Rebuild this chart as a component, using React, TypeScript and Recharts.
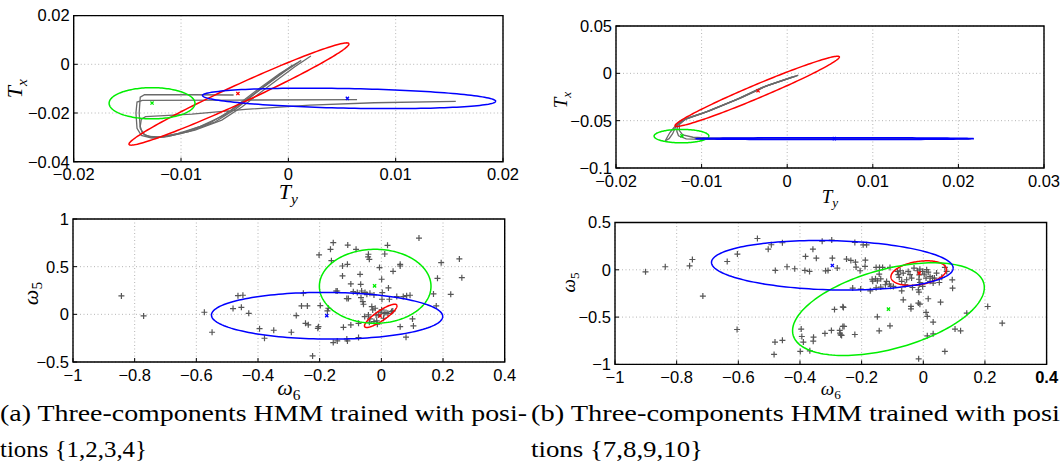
import React from 'react';
import { ScatterChart, Scatter, XAxis, YAxis, CartesianGrid, ReferenceArea } from 'recharts';

type Pt = [number, number];
type Ell = { cx: number; cy: number; rx: number; ry: number; rho: number };

// colours of the three HMM components: red, green, blue
const COMPONENT_COLORS = ['#ff0000', '#00ee00', '#0000ff'];

// ---------- (a) top: T_y / T_x ----------
const aTopXTicks = [-0.02, -0.01, 0, 0.01, 0.02];
const aTopYTicks = [-0.04, -0.02, 0, 0.02];
const aTopEllipses: Ell[] = [
  { cx: -0.0046, cy: -0.0122, rx: 0.01025, ry: 0.021, rho: 0.98 },
  { cx: -0.0127, cy: -0.016, rx: 0.004, ry: 0.0064, rho: 0 },
  { cx: 0.00566, cy: -0.014, rx: 0.01366, ry: 0.0042, rho: -0.28 },
];
const aTopCenters: Pt[] = [[-0.0047, -0.012], [-0.0127, -0.0159], [0.0055, -0.014]];
const aTopPaths: Pt[][] = [
  [[0.0021, 0.0034], [0.0006, -0.001], [-0.0019, -0.0092], [-0.0043, -0.0174], [-0.0062, -0.0229], [-0.0087, -0.027], [-0.0109, -0.0293], [-0.0124, -0.0302], [-0.0134, -0.029], [-0.0138, -0.0263], [-0.0139, -0.02], [-0.0138, -0.0135], [-0.0134, -0.0125], [-0.009, -0.0125], [-0.0051, -0.0126]],
  [[0.0012, 0.0016], [-0.0003, -0.0028], [-0.0026, -0.0103], [-0.0049, -0.0183], [-0.0068, -0.0236], [-0.0093, -0.0276], [-0.0113, -0.0297], [-0.0127, -0.0303], [-0.0137, -0.0292], [-0.0141, -0.0263], [-0.0142, -0.02], [-0.0141, -0.0155], [-0.0136, -0.0148], [-0.005, -0.0147], [0.0064, -0.0145]],
  [[0.0008, 0.0005], [-0.0008, -0.0038], [-0.0031, -0.0112], [-0.0054, -0.019], [-0.0073, -0.0241], [-0.0097, -0.0279], [-0.0116, -0.0298], [-0.0129, -0.0299], [-0.0136, -0.0283], [-0.0138, -0.0255], [-0.0137, -0.0225], [-0.0133, -0.0215], [-0.009, -0.0205], [-0.004, -0.0185], [0.002, -0.0168], [0.008, -0.0158], [0.0156, -0.0152]],
  [[0.0004, -0.0003], [-0.0015, -0.0065], [-0.0039, -0.0145], [-0.006, -0.021], [-0.0082, -0.0255], [-0.0103, -0.0285], [-0.012, -0.0298], [-0.0131, -0.0296]],
];

// ---------- (b) top: T_y / T_x ----------
const bTopXTicks = [-0.02, -0.01, 0, 0.01, 0.02, 0.03];
const bTopYTicks = [-0.1, -0.05, 0, 0.05];
const bTopEllipses: Ell[] = [
  { cx: -0.0035, cy: -0.019, rx: 0.0096, ry: 0.0371, rho: 0.978 },
  { cx: -0.01235, cy: -0.0663, rx: 0.0032, ry: 0.0071, rho: 0 },
  { cx: 0.0056, cy: -0.069, rx: 0.0162, ry: 0.001, rho: 0 },
];
const bTopCenters: Pt[] = [[-0.0034, -0.0184], [-0.0123, -0.0661], [0.0055, -0.069]];
const bTopPaths: Pt[][] = [
  [[0.0012, -0.0025], [-0.0025, -0.0135], [-0.0055, -0.0262], [-0.0093, -0.0402], [-0.0117, -0.0475], [-0.0128, -0.053], [-0.0131, -0.058], [-0.0134, -0.064], [-0.0138, -0.069], [-0.0143, -0.0715]],
  [[0.0009, -0.0032], [-0.0028, -0.0145], [-0.0058, -0.0272], [-0.0096, -0.0412], [-0.0119, -0.0484], [-0.0126, -0.054], [-0.0126, -0.0605], [-0.0122, -0.065], [-0.011, -0.0675], [-0.009, -0.0684], [0.008, -0.0688], [0.0214, -0.069]],
  [[0.0006, -0.0038], [-0.003, -0.0152], [-0.006, -0.0279], [-0.0098, -0.042], [-0.012, -0.049], [-0.0128, -0.0548], [-0.0129, -0.061], [-0.0127, -0.066], [-0.0118, -0.0693], [-0.01, -0.0697], [0.01, -0.0694], [0.0215, -0.0692]],
  [[0.0013, -0.002], [-0.0022, -0.0125], [-0.0052, -0.0252], [-0.009, -0.0394], [-0.0115, -0.0468], [-0.0126, -0.0522], [-0.0132, -0.057], [-0.0137, -0.0625], [-0.014, -0.0672], [-0.0142, -0.0705]],
];

// ---------- (a) bottom: w6 / w5 ----------
const omegaXTicks = [-1, -0.8, -0.6, -0.4, -0.2, 0, 0.2, 0.4];
const aBotYTicks = [-0.5, 0, 0.5, 1];
const aBotEllipses: Ell[] = [
  { cx: -0.002, cy: -0.016, rx: 0.0527, ry: 0.122, rho: 0.86 },
  { cx: -0.02, cy: 0.294, rx: 0.181, ry: 0.388, rho: 0 },
  { cx: -0.176, cy: -0.015, rx: 0.375, ry: 0.245, rho: -0.03 },
];
const aBotCenters: Pt[] = [[-0.004, -0.017], [-0.022, 0.298], [-0.177, -0.013]];
const aBotPoints: Pt[] = [
  [-0.843, 0.193], [-0.771, -0.017], [-0.574, 0.022], [-0.549, -0.188], [-0.465, 0.196], [-0.449, 0.2], [-0.481, 0.06], [-0.454, 0.074],
  [-0.43, 0.011], [-0.395, -0.15], [-0.379, -0.251], [-0.349, -0.167], [-0.292, -0.188], [-0.276, -0.013], [-0.259, 0.088], [-0.24, 0.088],
  [-0.253, 0.221], [-0.246, -0.094], [-0.204, -0.129], [-0.223, -0.436], [-0.202, 0.623], [-0.198, 0.092], [-0.172, 0.064], [-0.175, 0.036],
  [-0.165, 0.682], [-0.156, 0.752], [-0.162, 0.563], [-0.109, 0.727], [-0.082, 0.682], [-0.126, 0.507], [-0.11, 0.525], [-0.126, 0.403],
  [-0.099, 0.319], [-0.069, 0.42], [-0.067, 0.315], [-0.042, 0.63], [-0.039, 0.577], [-0.043, 0.602], [0.02, 0.724], [0.011, 0.633],
  [0.122, 0.8], [-0.006, 0.49], [0.061, 0.525], [0.061, 0.507], [0.038, 0.451], [0.001, 0.368], [0.023, 0.277], [-0.147, 0.245],
  [-0.143, 0.245], [-0.112, 0.165], [-0.107, 0.165], [-0.091, 0.238], [-0.078, 0.228], [-0.064, 0.245], [-0.053, 0.228], [-0.047, 0.21],
  [-0.037, 0.221], [-0.066, 0.175], [-0.06, 0.133], [-0.058, 0.106], [-0.024, 0.203], [0.002, 0.158], [0.026, 0.158], [0.003, 0.228],
  [0.05, 0.186], [0.071, 0.186], [0.082, 0.196], [0.093, 0.2], [0.169, 0.214], [0.225, 0.21], [0.194, 0.542], [0.253, 0.581],
  [0.261, 0.385], [0.182, 0.378], [0.178, 0.088], [-0.031, 0.081], [-0.02, 0.064], [-0.01, -0.006], [-0.004, 0.022], [0.009, 0.008],
  [0.015, 0.018], [-0.054, -0.024], [-0.042, -0.006], [-0.037, -0.048], [-0.028, 0.046], [-0.015, -0.069], [-0.039, -0.083], [-0.024, -0.076],
  [-0.013, -0.104], [0.007, -0.041], [0.033, 0.029], [0.021, 0.011], [0.001, 0.046], [-0.017, -0.006], [-0.074, -0.094], [-0.099, -0.111],
  [-0.123, -0.136], [-0.112, -0.258], [-0.11, -0.279], [-0.143, -0.279], [-0.156, -0.296], [-0.074, -0.244], [0.061, -0.129], [0.101, -0.048],
  [0.104, -0.122], [0.08, -0.24], [0.037, 0.036], [-0.206, -0.147], [-0.237, -0.11],
];

// ---------- (b) bottom: w6 / w5 ----------
const bBotYTicks = [-1, -0.5, 0, 0.5];
const bBotEllipses: Ell[] = [
  { cx: -0.015, cy: -0.035, rx: 0.09, ry: 0.13, rho: 0.3 },
  { cx: -0.113, cy: -0.416, rx: 0.311, ry: 0.49, rho: 0.466 },
  { cx: -0.295, cy: 0.048, rx: 0.392, ry: 0.262, rho: -0.115 },
];
const bBotCenters: Pt[] = [[-0.013, -0.035], [-0.113, -0.416], [-0.295, 0.046]];
const bBotPoints: Pt[] = [
  [-0.901, -0.021], [-0.837, 0.032], [-0.758, 0.042], [-0.749, 0.109], [-0.715, -0.278], [-0.636, 0.088], [-0.603, 0.166], [-0.604, -0.631],
  [-0.538, 0.331], [-0.503, 0.218], [-0.493, 0.265], [-0.457, 0.286], [-0.48, -0.007], [-0.442, 0.032], [-0.417, 0.011], [-0.384, -0.007],
  [-0.369, -0.017], [-0.382, 0.141], [-0.358, 0.218], [-0.347, 0.123], [-0.328, 0.303], [-0.297, 0.314], [-0.295, 0.123], [-0.317, -0.011],
  [-0.309, -0.007], [-0.279, 0.018], [-0.481, -0.764], [-0.457, -0.746], [-0.484, -0.895], [-0.396, -0.627], [-0.394, -0.705], [-0.389, -0.764],
  [-0.399, -0.863], [-0.368, -0.856], [-0.356, -0.712], [-0.357, -0.754], [-0.319, -0.673], [-0.298, -0.641], [-0.288, -0.419], [-0.261, -0.391],
  [-0.271, -0.641], [-0.268, -0.687], [-0.261, -0.599], [-0.222, 0.289], [-0.195, 0.264], [-0.184, 0.264], [-0.249, 0.113], [-0.235, 0.099],
  [-0.22, 0.081], [-0.188, 0.102], [-0.218, 0.029], [-0.205, -0.01], [-0.189, 0.036], [-0.153, 0.025], [-0.142, 0.025], [-0.132, 0.025],
  [-0.108, 0.025], [-0.143, -0.045], [-0.166, -0.1], [-0.155, -0.095], [-0.164, -0.12], [-0.149, -0.117], [-0.138, -0.095], [-0.119, -0.123],
  [-0.11, -0.15], [-0.106, -0.175], [-0.153, -0.19], [-0.138, -0.183], [-0.123, -0.158], [-0.097, -0.176], [-0.229, -0.193], [-0.203, -0.204],
  [-0.172, -0.222], [-0.084, -0.017], [-0.081, -0.052], [-0.075, -0.01], [-0.065, -0.035], [-0.049, -0.017], [-0.043, -0.052], [-0.078, -0.08],
  [-0.07, -0.122], [-0.054, -0.105], [-0.059, -0.158], [-0.038, -0.087], [-0.03, 0.018], [-0.019, -0.01], [-0.011, 0.007], [-0.013, -0.053],
  [-0.002, -0.017], [0.003, -0.045], [0.011, 0.001], [0.016, -0.024], [0.009, -0.087], [0.022, -0.07], [0.03, -0.087], [0.022, -0.122],
  [-0.014, -0.1], [-0.011, -0.134], [-0.013, -0.158], [-0.016, -0.211], [-0.014, -0.236], [-0.035, -0.187], [-0.002, -0.176], [0.043, -0.035],
  [0.052, -0.134], [0.06, -0.08], [0.07, 0.025], [0.076, -0.017], [0.036, -0.087], [0.032, -0.14], [0.094, -0.106], [0.095, -0.194],
  [-0.07, -0.222], [-0.065, -0.317], [-0.04, -0.387], [-0.04, -0.412], [-0.016, -0.352], [-0.011, -0.363], [0.016, -0.306], [0.056, -0.342],
  [0.009, -0.45], [0.013, -0.493], [0.032, -0.553], [0.013, -0.698], [0.032, -0.677], [0.103, -0.627], [0.121, -0.645], [-0.259, -0.398],
  [-0.149, -0.497], [-0.108, -0.592], [-0.143, -0.645], [-0.257, -0.599], [-0.27, -0.669], [-0.265, -0.694], [-0.222, -0.684], [0.07, -0.863],
  [-0.015, -0.941], [0.141, -0.458], [0.209, -0.388], [0.256, -0.564],
];

const captionA = ['(a) Three-components HMM trained with posi-', 'tions {1,2,3,4}'];
const captionB = ['(b) Three-components HMM trained with posi', 'tions {7,8,9,10}'];

const SANS = '"Liberation Sans", Arial, sans-serif';
const SERIF = '"Liberation Serif", "Times New Roman", serif';

const toXY = (p: Pt) => ({ x: p[0], y: p[1] });

// covariance-style ellipse (half extents rx, ry and correlation rho) traced as a closed outline
function ellipseOutline(e: Ell, n = 160) {
  const k = Math.sqrt(1 - e.rho * e.rho);
  const out: { x: number; y: number }[] = [];
  for (let i = 0; i <= n; i++) {
    const t = (i / n) * 2 * Math.PI;
    out.push({ x: e.cx + e.rx * Math.cos(t), y: e.cy + e.ry * (e.rho * Math.cos(t) + k * Math.sin(t)) });
  }
  return out;
}

const fmt = (v: number) => (v < 0 ? '\u2212' + String(-v) : String(v));

const mkTick = (side: 'x' | 'y', bold?: number) => (p: any) => {
  const v = p.payload.value;
  return (
    <text
      x={p.x}
      y={p.y}
      dy={side === 'x' ? '0.71em' : '0.355em'}
      textAnchor={side === 'x' ? 'middle' : 'end'}
      fontFamily={SANS}
      fontSize={16.5}
      fontWeight={bold === v ? 'bold' : 'normal'}
      fill="#000"
    >
      {fmt(v)}
    </text>
  );
};

const NoDot = () => <g />;

const Plus = (p: any) => (
  <path d={`M${p.cx - 3},${p.cy}h6M${p.cx},${p.cy - 3}v6`} stroke="#565656" strokeWidth={1.2} fill="none" />
);

const mkCross = (color: string) => (p: any) => (
  <path
    d={`M${p.cx - 1.6},${p.cy - 1.6}l3.2,3.2M${p.cx + 1.6},${p.cy - 1.6}l-3.2,3.2`}
    stroke={color}
    strokeWidth={1.3}
    fill="none"
  />
);

// axis title with an italic symbol and a subscript, LaTeX style
const xTitle = (sym: string, sub: string, size: number, dy: number, subItalic: boolean) => (props: any) => {
  const vb = props.viewBox || { x: 0, y: 0, width: 0 };
  return (
    <text x={vb.x + vb.width / 2} y={vb.y + dy} textAnchor="middle" fontFamily={SERIF} fontSize={size} fill="#000">
      <tspan fontStyle="italic">{sym}</tspan>
      <tspan fontSize={size * 0.7} dy={size * 0.22} fontStyle={subItalic ? 'italic' : 'normal'}>
        {sub}
      </tspan>
    </text>
  );
};

const yTitle = (sym: string, sub: string, size: number, bx: number, dy: number, subItalic: boolean) => (props: any) => {
  const vb = props.viewBox || { x: 0, y: 0, height: 0 };
  const x = vb.x + bx;
  const y = vb.y + vb.height / 2 + dy;
  return (
    <text x={x} y={y} transform={`rotate(-90, ${x}, ${y})`} textAnchor="middle" fontFamily={SERIF} fontSize={size} fill="#000">
      <tspan fontStyle="italic">{sym}</tspan>
      <tspan fontSize={size * 0.7} dy={size * 0.22} fontStyle={subItalic ? 'italic' : 'normal'}>
        {sub}
      </tspan>
    </text>
  );
};

type PanelProps = {
  left: number;
  top: number;
  width: number;
  height: number;
  plotTop: number;
  plotRight: number;
  yAxisWidth: number;
  xAxisHeight: number;
  xTicks: number[];
  yTicks: number[];
  ellipses: Ell[];
  centers: Pt[];
  paths?: Pt[][];
  points?: Pt[];
  xLabel: (props: any) => React.ReactElement;
  yLabel: (props: any) => React.ReactElement;
  boldTick?: number;
};

const Panel = (p: PanelProps) => {
  const xMin = p.xTicks[0];
  const xMax = p.xTicks[p.xTicks.length - 1];
  const yMin = p.yTicks[0];
  const yMax = p.yTicks[p.yTicks.length - 1];
  return (
    <div style={{ position: 'absolute', left: p.left, top: p.top }}>
      <ScatterChart width={p.width} height={p.height} margin={{ top: p.plotTop, right: p.plotRight, bottom: 0, left: 0 }}>
        <CartesianGrid stroke="#b5b5b5" strokeDasharray="1 2.5" />
        <XAxis
          type="number"
          dataKey="x"
          domain={[xMin, xMax]}
          ticks={p.xTicks}
          interval={0}
          allowDataOverflow
          height={p.xAxisHeight}
          axisLine={false}
          tickLine={{ stroke: '#000' }}
          tickSize={-4}
          tickMargin={11}
          tick={mkTick('x', p.boldTick)}
          label={p.xLabel}
        />
        <YAxis
          type="number"
          dataKey="y"
          domain={[yMin, yMax]}
          ticks={p.yTicks}
          interval={0}
          allowDataOverflow
          width={p.yAxisWidth}
          axisLine={false}
          tickLine={{ stroke: '#000' }}
          tickSize={-4}
          tickMargin={8}
          tick={mkTick('y')}
          label={p.yLabel}
        />
        {(p.paths || []).map((path, i) => (
          <Scatter
            key={'path' + i}
            data={path.map(toXY)}
            line={{ stroke: '#6a6a6a', strokeWidth: 1.3 }}
            shape={NoDot}
            isAnimationActive={false}
          />
        ))}
        {p.points && <Scatter data={p.points.map(toXY)} shape={Plus} isAnimationActive={false} />}
        {p.ellipses.map((e, i) => (
          <Scatter
            key={'ell' + i}
            data={ellipseOutline(e)}
            line={{ stroke: COMPONENT_COLORS[i], strokeWidth: 1.5 }}
            shape={NoDot}
            isAnimationActive={false}
          />
        ))}
        {p.centers.map((c, i) => (
          <Scatter key={'c' + i} data={[toXY(c)]} shape={mkCross(COMPONENT_COLORS[i])} isAnimationActive={false} />
        ))}
        <ReferenceArea x1={xMin} x2={xMax} y1={yMin} y2={yMax} fill="none" stroke="#000" strokeWidth={1.4} ifOverflow="visible" />
      </ScatterChart>
    </div>
  );
};

export default function App() {
  return (
    <div style={{ position: 'absolute', left: 0, top: 0, width: 1063, height: 465, background: '#fff', overflow: 'hidden' }}>
      <Panel
        left={0}
        top={0}
        width={530}
        height={215}
        plotTop={15.6}
        plotRight={27}
        yAxisWidth={73.7}
        xAxisHeight={53.3}
        xTicks={aTopXTicks}
        yTicks={aTopYTicks}
        ellipses={aTopEllipses}
        centers={aTopCenters}
        paths={aTopPaths}
        xLabel={xTitle('T', 'y', 22, 37, true)}
        yLabel={yTitle('T', 'x', 22, 22, 0, true)}
      />
      <Panel
        left={530}
        top={0}
        width={533}
        height={215}
        plotTop={26}
        plotRight={19}
        yAxisWidth={86}
        xAxisHeight={47}
        xTicks={bTopXTicks}
        yTicks={bTopYTicks}
        ellipses={bTopEllipses}
        centers={bTopCenters}
        paths={bTopPaths}
        xLabel={xTitle('T', 'y', 19, 35, true)}
        yLabel={yTitle('T', 'x', 19, 37, 3, true)}
      />
      <Panel
        left={0}
        top={200}
        width={530}
        height={215}
        plotTop={19}
        plotRight={25.3}
        yAxisWidth={73}
        xAxisHeight={53}
        xTicks={omegaXTicks}
        yTicks={aBotYTicks}
        ellipses={aBotEllipses}
        centers={aBotCenters}
        points={aBotPoints}
        xLabel={xTitle('\u03c9', '6', 22, 33, false)}
        yLabel={yTitle('\u03c9', '5', 22, 37.5, 3, false)}
      />
      <Panel
        left={530}
        top={200}
        width={533}
        height={215}
        plotTop={22.5}
        plotRight={16.4}
        yAxisWidth={85}
        xAxisHeight={50.6}
        xTicks={omegaXTicks}
        yTicks={bBotYTicks}
        ellipses={bBotEllipses}
        centers={bBotCenters}
        points={bBotPoints}
        boldTick={0.4}
        xLabel={xTitle('\u03c9', '6', 19, 30.6, false)}
        yLabel={yTitle('\u03c9', '5', 19, 45, -11, false)}
      />
      <svg width={1063} height={465} style={{ position: 'absolute', left: 0, top: 0, pointerEvents: 'none' }}>
        <text x={0} y={421} fontFamily={SERIF} fontSize={23} textLength={527} lengthAdjust="spacingAndGlyphs">
          {captionA[0]}
        </text>
        <text x={0} y={457} fontFamily={SERIF} fontSize={23} textLength={147} lengthAdjust="spacingAndGlyphs">
          {captionA[1]}
        </text>
        <text x={531} y={421} fontFamily={SERIF} fontSize={23} textLength={529} lengthAdjust="spacingAndGlyphs">
          {captionB[0]}
        </text>
        <text x={531} y={457} fontFamily={SERIF} fontSize={23} textLength={172} lengthAdjust="spacingAndGlyphs">
          {captionB[1]}
        </text>
      </svg>
    </div>
  );
}
